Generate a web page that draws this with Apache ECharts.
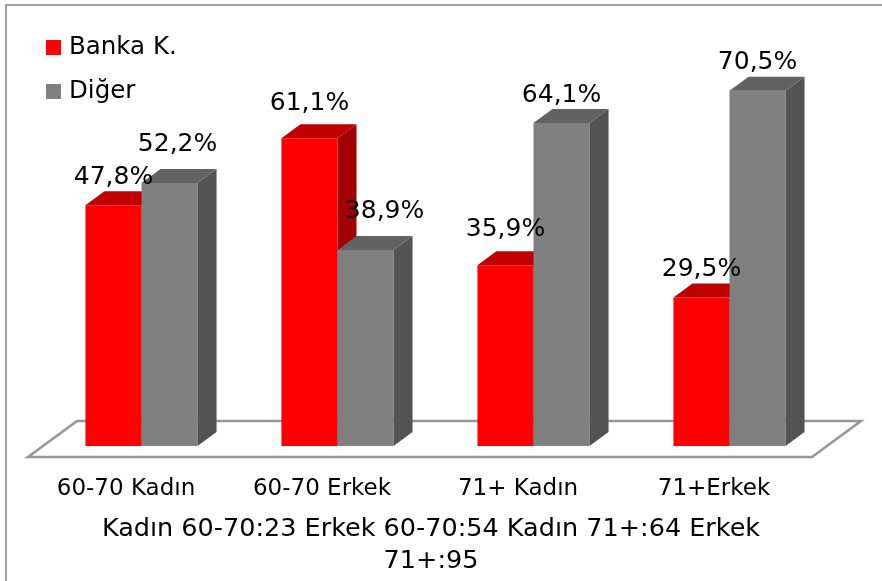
<!DOCTYPE html>
<html>
<head>
<meta charset="utf-8">
<script src="https://cdn.jsdelivr.net/npm/echarts@6/dist/echarts.min.js"></script>
<style>
  html, body { margin: 0; padding: 0; background: #fff; }
  #chart { width: 882px; height: 581px; }
</style>
</head>
<body>
<div id="chart"></div>
<script>
var categories = ['60-70 Kadın', '60-70 Erkek', '71+ Kadın', '71+Erkek'];
var bankaK = [47.8, 61.1, 35.9, 29.5];
var diger = [52.2, 38.9, 64.1, 70.5];
var seriesNames = ['Banka K.', 'Diğer'];
var subtitle = 'Kadın 60-70:23 Erkek 60-70:54 Kadın 71+:64 Erkek\n71+:95';

var FONT = '"DejaVu Sans", sans-serif';
// front / top / side colours of the 3d boxes
var faces = [
    {front: '#FF0000', top: '#C00000', side: '#A00000'},
    {front: '#808080', top: '#626262', side: '#535353'}
];
var DX = 19, DY = 14;       // depth of a bar
var SHIFT = 15.5;           // bars sit a bit back on the floor
// a couple of labels were moved by hand in the original
var labelNudge = {
    '0-1': [0, -7], '0-2': [0, -8],
    '1-0': [8, -11], '1-1': [19, -11]
};

function fmt(v) {
    return v.toFixed(1).replace('.', ',') + '%';
}

function renderBox(params, api) {
    var idx = api.value(0);
    var top = api.coord([idx, api.value(1)]);
    var base = api.coord([idx, 0]);
    var band = api.size([1, 0])[0];
    var w = band * 0.286;
    var s = params.seriesIndex;
    var x0 = top[0] + SHIFT - (s === 0 ? w : 0);
    var x1 = x0 + w;
    var yt = top[1], yb = base[1];
    var c = faces[s];
    var n = labelNudge[s + '-' + params.dataIndex] || [0, 0];
    return {
        type: 'group',
        children: [
            {type: 'rect', shape: {x: x0, y: yt, width: w, height: yb - yt}, style: {fill: c.front}},
            {type: 'polygon', shape: {points: [[x1, yt], [x1 + DX, yt - DY], [x1 + DX, yb - DY], [x1, yb]]}, style: {fill: c.side}},
            {type: 'polygon', shape: {points: [[x0, yt], [x1, yt], [x1 + DX, yt - DY], [x0 + DX, yt - DY]]}, style: {fill: c.top}},
            {type: 'text', z2: 100, x: (x0 + x1) / 2 + n[0], y: yt - 28 + n[1],
                style: {text: fmt(api.value(1)), fill: '#000', font: '25px ' + FONT, align: 'center', verticalAlign: 'middle'}}
        ]
    };
}

var chart = echarts.init(document.getElementById('chart'));

var option = {
    animation: false,
    backgroundColor: '#fff',
    legend: {
        data: seriesNames,
        orient: 'vertical',
        left: 41,
        top: 30,
        icon: 'rect',
        itemWidth: 15,
        itemHeight: 15,
        itemGap: 19,
        textStyle: {fontFamily: FONT, fontSize: 24.5, lineHeight: 24, color: '#000', padding: [0, 0, 0, 3]}
    },
    grid: {left: 28, right: 70, top: 43, bottom: 135},
    xAxis: {
        type: 'category',
        data: categories,
        axisLine: {show: false},
        axisTick: {show: false},
        axisLabel: {margin: 43, verticalAlign: 'middle', fontFamily: FONT, fontSize: 23, color: '#000'}
    },
    yAxis: {type: 'value', min: 0, max: 80, show: false},
    series: [
        {
            name: seriesNames[0],
            type: 'custom',
            itemStyle: {color: faces[0].front},
            renderItem: renderBox,
            encode: {x: 0, y: 1},
            data: bankaK.map(function (v, i) { return [i, v]; })
        },
        {
            name: seriesNames[1],
            type: 'custom',
            itemStyle: {color: faces[1].front},
            renderItem: renderBox,
            encode: {x: 0, y: 1},
            data: diger.map(function (v, i) { return [i, v]; })
        }
    ]
};
chart.setOption(option);

// floor plate under the bars, taken from the axis extent
var c0 = chart.convertToPixel({xAxisIndex: 0}, 0);
var c3 = chart.convertToPixel({xAxisIndex: 0}, categories.length - 1);
var band = (c3 - c0) / (categories.length - 1);
var left = c0 - band / 2, right = c3 + band / 2;
var y0 = chart.convertToPixel({yAxisIndex: 0}, 0);
var fy = y0 + 11, by = y0 - 25, bx = 49;

chart.setOption({
    graphic: [
        {type: 'rect', z: -10, shape: {x: 6, y: 5, width: 900, height: 600},
            style: {fill: 'none', stroke: '#a0a0a0', lineWidth: 2}},
        {type: 'polygon', z: -5,
            shape: {points: [[left, fy], [left + bx, by], [right + bx, by], [right, fy]]},
            style: {fill: '#fff', stroke: '#969696', lineWidth: 2.5}},
        {type: 'text', x: 431, y: 513,
            style: {text: subtitle, fill: '#000', font: '25.5px ' + FONT, lineHeight: 32, align: 'center', verticalAlign: 'top'}}
    ]
});
</script>
</body>
</html>
